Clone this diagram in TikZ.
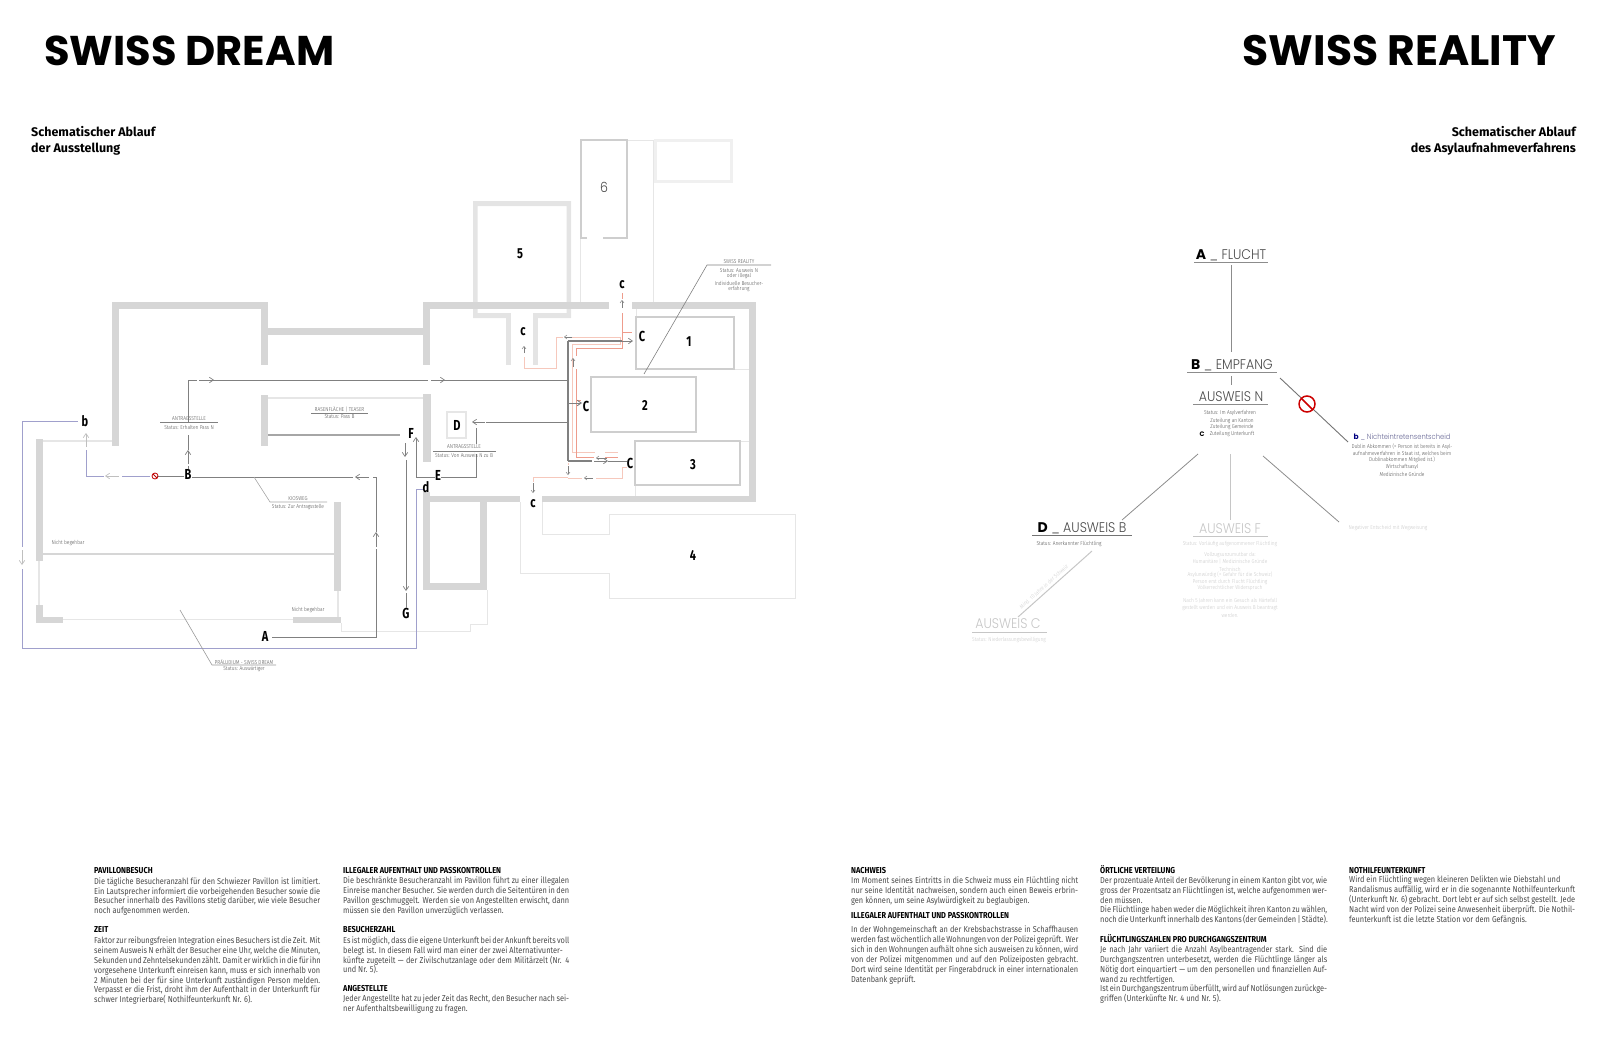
\documentclass[tikz,border=0pt]{standalone}
\usepackage{fontspec}
\usetikzlibrary{arrows.meta}
\setmainfont{Fira Sans}
\newfontfamily\bodyf[FakeStretch=0.86]{Fira Sans}
\newfontfamily\headf[FakeStretch=0.86]{Fira Sans}
\newfontfamily\markf[FakeStretch=0.76]{Fira Sans}
\newfontfamily\smallf[FakeStretch=0.86]{Fira Sans Light}
\newfontfamily\popf{Poppins}
\newfontfamily\popl[FakeStretch=0.9]{Poppins Light}
\definecolor{wallc}{HTML}{D6D6D6}
\definecolor{wall2}{HTML}{E4E4E4}
\definecolor{thinc}{HTML}{E6E6E6}
\definecolor{pathc}{HTML}{808080}
\definecolor{bluec}{HTML}{A0A0CC}
\definecolor{pinkc}{HTML}{F6C8BC}
\definecolor{redc}{HTML}{EE9C8C}
\definecolor{roomc}{HTML}{CECECE}
\definecolor{faintc}{HTML}{C6C6C6}
\definecolor{bodyc}{HTML}{4A4A4A}
\newcount\tn
\newcommand{\bline}[4]{\global\advance\tn by 1 \node[bodyline,anchor=base west] (t\the\tn) at (#1,#2+3) {\makebox[#3pt][s]{#4}};}
\newcommand{\lastl}[3]{\global\advance\tn by 1 \node[bodyline,anchor=base west] (t\the\tn) at (#1,#2+3) {#3};}
\newcommand{\hdl}[3]{\global\advance\tn by 1 \node[headline,anchor=base west] (t\the\tn) at (#1,#2+3) {#3};}
\newcommand{\smt}[3]{\global\advance\tn by 1 \node[smalltext] (t\the\tn) at (#1,#2) {#3};}
\newcommand{\fnt}[3]{\global\advance\tn by 1 \node[fainttext] (t\the\tn) at (#1,#2) {#3};}
\newcommand{\ltr}[1]{{\popf\bfseries\color{black}#1}}
\tikzset{
 x=1pt,y=-1pt,
 wallb/.style={fill=wall2,draw=none},
 thin line/.style={draw=thinc,line width=0.9pt},
 thick light/.style={draw=thinc,line width=1.6pt},
 route/.style={draw=pathc,line width=0.9pt},
 routeb/.style={draw=bluec,line width=0.9pt},
 routep/.style={draw=pinkc,line width=0.9pt},
 router/.style={draw=redc,line width=1pt},
 arw/.style={draw=pathc,line width=0.7pt,-{Straight Barb[length=4pt,width=5.5pt]}},
 arwl/.style={draw=lightgray,line width=0.7pt,-{Straight Barb[length=4pt,width=5.5pt]}},
 arws/.style={draw=gray,line width=0.5pt,-{Straight Barb[length=2.5pt,width=4pt]}},
 roombox/.style={draw=roomc,line width=1.2pt},
 mark letter/.style={font=\markf\bfseries\fontsize{14.5}{14}\selectfont,text=black,inner sep=0pt},
 lead/.style={draw=gray,line width=0.6pt},
 headul/.style={draw=gray!90,line width=0.8pt},
 bodyline/.style={font=\bodyf\fontsize{8.6}{10}\selectfont,text=bodyc,inner sep=0pt},
 headline/.style={font=\headf\bfseries\fontsize{8.6}{10}\selectfont,text=black,inner sep=0pt},
 smalltext/.style={font=\smallf\fontsize{5.6}{6}\selectfont,text=bodyc,inner sep=0pt},
 fainttext/.style={font=\smallf\fontsize{5.6}{6}\selectfont,text=faintc,inner sep=0pt},
 bigl/.style={font=\popl\fontsize{14}{14}\selectfont,text=bodyc,inner sep=0pt},
 bigf/.style={font=\popl\fontsize{14}{14}\selectfont,text=faintc,inner sep=0pt},
 sched/.style={font=\bfseries\fontsize{12.5}{15}\selectfont,inner sep=0pt},
}
\begin{document}
\begin{tikzpicture}
\useasboundingbox (0,0) rectangle (1600,1049);
% titles
\node[anchor=west,inner sep=0pt] (title1) at (44,51) {\resizebox{290pt}{!}{\popf\bfseries SWISS DREAM}};
\node[anchor=east,inner sep=0pt] (title2) at (1556,51) {\resizebox{313pt}{!}{\popf\bfseries SWISS REALITY}};
\node[sched,anchor=base west] (sa1) at (31,136) {Schematischer Ablauf};
\node[sched,anchor=base west] (sa2) at (31,152) {der Ausstellung};
\node[sched,anchor=base east] (sb1) at (1576,136) {Schematischer Ablauf};
\node[sched,anchor=base east] (sb2) at (1576,152) {des Asylaufnahmeverfahrens};

% ---------- light outlines ----------
\draw[draw=thinc,line width=0.8pt] (581,140) -- (653,140) -- (653,302);
\draw[draw=thinc,line width=0.8pt] (580,238) -- (580,302);
\draw[draw=black!6,line width=3pt] (655.5,140.5) rectangle (731.5,181.5);
\draw[draw=thinc,line width=0.8pt] (341,623) -- (341,631) -- (470,631) -- (470,624) -- (487,624) -- (487,590);
\draw[draw=thinc,line width=0.8pt] (520,502) -- (520,573) -- (609,573) -- (609,598) -- (795,598) -- (795,514) -- (609,514) -- (609,534) -- (542,534) -- (542,502);
% room 6
\draw[draw=roomc,line width=1.3pt] (587,238) -- (581,238) -- (581,140) -- (627,140) -- (627,238) -- (603,238);
\node[font=\popl\fontsize{14}{14}\selectfont,text=bodyc,inner sep=0pt] (n6) at (604,187) {6};
% room 5
\fill[wallb,even odd rule] (473,201) rectangle (571,318) (477.5,206) rectangle (566.5,313);
\fill[white] (511,313) rectangle (533,319);
\fill[wallb] (506,318) rectangle (511,365);
\fill[wallb] (533,318) rectangle (538,365);
\node[mark letter] (n5) at (520,254) {5};

% ---------- walls ----------
\fill[wallc] (112,302) rectangle (119,446);
\fill[wallc] (112,302) rectangle (268,309);
\fill[wallc] (261,302) rectangle (268,365);
\fill[wallc] (268,328) rectangle (423,335);
\fill[wallc] (423,302) rectangle (430,365);
\fill[wallc] (423,302) rectangle (609,309);
\fill[wallc] (632,302) rectangle (756,309);
\fill[wallc] (749,302) rectangle (756,502);
\fill[wallc] (542,496) rectangle (756,502);
\fill[wallc] (423,496) rectangle (520,502);
\fill[wallc] (423,492) rectangle (430,590);
\fill[wallc] (480,496) rectangle (487,590);
\fill[wallc] (423,583) rectangle (487,590);
\fill[wallc] (423,394) rectangle (431,462);
\fill[wallc] (261,395) rectangle (268,446);
\fill[wallc] (36,439) rectangle (43,561);
\fill[wallc] (334,502) rectangle (341,591);
\fill[wallc] (293,617) rectangle (341,623);
\fill[wallc] (36,605) rectangle (43,623);
\fill[wallc] (36,617) rectangle (63,623);
% thin wall links
\draw[thick light] (268,398) -- (423,398);
\draw[draw=wallc,line width=1.4pt] (43,554) -- (334,554);
\draw[thick light] (43,441) -- (112,441);
\draw[thick light] (39,561) -- (39,605);
\draw[thick light] (338,591) -- (338,617);
\draw[thick light] (63,619.5) -- (293,619.5);
\draw[draw=gray!70,line width=1.2pt] (268,435) -- (400,435);
\draw[thin line] (636,309) -- (636,317);
\draw[thin line] (734,369) -- (749,369);
\draw[thin line] (740,441) -- (749,441);
\draw[thin line] (635,485) -- (635,496);

% ---------- rooms ----------
\draw[roombox] (636,317) rectangle (734,369);
\draw[roombox] (591,377) rectangle (696,432);
\draw[roombox] (635,441) rectangle (740,485);
\draw[roombox,draw=thinc] (447,412) rectangle (466,438);
\node[mark letter] (n1) at (689,342) {1};
\node[mark letter] (n2) at (645,405) {2};
\node[mark letter] (n3) at (693,465) {3};
\node[mark letter] (n4) at (693,555) {4};

% ---------- letters ----------
\node[mark letter] (A) at (265,636) {A};
\node[mark letter] (B) at (188,474) {B};
\node[mark letter] (Cone) at (642,336) {C};
\node[mark letter] (Ctwo) at (586,406) {C};
\node[mark letter] (Cthree) at (630,463) {C};
\node[mark letter] (D) at (457,425) {D};
\node[mark letter] (E) at (438,475) {E};
\node[mark letter] (F) at (411,433) {F};
\node[mark letter] (G) at (406,613) {G};
\node[mark letter] (b) at (85,421) {b};
\node[mark letter] (cu) at (622,285) {c};
\node[mark letter] (cv) at (523,332) {c};
\node[mark letter] (cw) at (533,504) {c};
\node[mark letter] (d) at (426,487) {d};

% ---------- pink routes ----------
\draw[routep] (524,357) -- (524,368) -- (556,368) -- (556,337) -- (563,337);
\draw[routep] (572,337) -- (620,337);
\draw[routep] (620,337) -- (620,344) -- (572,344) -- (572,400);
\draw[routep] (572,400) -- (572,452);
\draw[routep] (572,452) -- (595,452);
\draw[routep] (605,452) -- (618,452);
\draw[router] (576,348) -- (576,356);
\draw[router] (576,369) -- (576,457) -- (594,457);
\draw[router] (605,457) -- (618,457);
\draw[router] (576,348) -- (622,348) -- (622,313);
\draw[router] (622,293) -- (622,299);
\draw[router] (622,332) -- (632,332);
\draw[router] (576,400) -- (581,400);
\draw[routep] (568,477) -- (533,477) -- (533,482);
\draw[routep] (568,478) -- (582,478);
\draw[routep] (596,478) -- (622,478) -- (622,467) -- (627,467);
\draw[routep] (568,463) -- (568,465);

% ---------- gray routes ----------
\draw[route] (A.east) ++(4,1) -- (376,637) -- (376,549);
\draw[arw] (376,547) -- (376,532);
\draw[route] (376,532) -- (376,477) -- (373,477);
\draw[arw] (369,477) -- (355,477);
\draw[route] (353,477) -- (B.east |- 353,477);
\draw[route] (B.north) -- (188,466);
\draw[arw] (188,464) -- (188,450);
\draw[route] (188,450) -- (188,435);
\draw[route] (188,422) -- (188,380) -- (197,380);
\draw[arw] (199,380) -- (214,380);
\draw[route] (213,380) -- (428,380);
\draw[arw] (431,380) -- (445,380);
\draw[route] (444,380) -- (568,380);
\draw[draw=gray,line width=1.3pt] (568,341) -- (568,461);
\draw[draw=gray,line width=1.1pt] (568,341) -- (622,341);
\draw[arw] (622,341) -- (633,341);
\draw[arw,line width=0.9pt] (568,403) -- (582,403);
\draw[draw=gray,line width=1.1pt] (568,461) -- (592,461);
\draw[arw] (594,461) -- (608,461);
\draw[arws] (607,458) -- (596,458);
\draw[route] (608,461) -- (Cthree.west |- 608,461);
\draw[route] (568,422) -- (486,422);
\draw[arw] (485,422) -- (472,422);
\draw[route] (476,428) -- (476,444);
\draw[route] (476,454) -- (476,477) -- (E.east |- 476,477);
\draw[route] (E.west |- 416,477) -- (416,477) -- (416,449);
\draw[arw] (416,449) -- (416,437);
\draw[arw] (405,443) -- (405,457);
\draw[route] (406,460) -- (406,577);
\draw[arw] (406,577) -- (406,591);
\draw[route] (406,593) -- (G.north);

% ---------- left branch to b ----------
\draw[route,line width=0.9pt] (B.west |- 157,476) -- (157,476);
\draw[routeb] (150,476) -- (122,476);
\draw[arwl] (119,476) -- (105,476);
\draw[routeb] (104,476) -- (86,476) -- (86,450);
\draw[arwl] (86,447) -- (86,433);
\draw[draw=red!75!black,line width=0.8pt] (155,476) circle (3);
\draw[draw=red!75!black,line width=0.8pt] (153,474) -- (157,478);
% blue route
\draw[routeb] (b.west) ++(-4,0) -- (22,421) -- (22,547);
\draw[arwl] (22,550) -- (22,565);
\draw[routeb] (22,569) -- (22,648) -- (416,648) -- (416,489) -- (d.west |- 416,489);

% small arrows
\draw[arws] (524,353) -- (524,346);
\draw[arws] (573,367) -- (573,358);
\draw[arws] (572,337) -- (564,337);
\draw[arws] (622,308) -- (622,300);
\draw[arws] (568,466) -- (568,475);
\draw[arws] (533,483) -- (533,493);
\draw[arws] (593,478) -- (584,478);

% ---------- left labels ----------
\coordinate (l1a) at (160,422); \coordinate (l1b) at (218,422);
\draw[lead] (l1a) -- (l1b);
\smt{189}{419}{ANTRAGSSTELLE}
\smt{189}{427}{Status: Erhalten Pass N}
\coordinate (l2a) at (311,413); \coordinate (l2b) at (368,413);
\draw[lead] (l2a) -- (l2b);
\smt{339.5}{409}{RASENFLÄCHE | TEASER}
\smt{339.5}{417}{Status: Pass B}
\coordinate (l3a) at (433,451); \coordinate (l3b) at (496,451);
\draw[lead] (l3a) -- (l3b);
\smt{464}{447}{ANTRAGSSTELLE}
\smt{464}{455}{Status: Von Ausweis N zu B}
\coordinate (l4a) at (254,477); \coordinate (l4b) at (270,502); \coordinate (l4c) at (327,502);
\draw[lead,draw=gray!70] (l4a) -- (l4b) -- (l4c);
\smt{298}{499}{KIOSWEG}
\smt{298}{507}{Status: Zur Antragsstelle}
\coordinate (l5a) at (180,610); \coordinate (l5b) at (212,665); \coordinate (l5c) at (276,665);
\draw[lead,draw=gray!80] (l5a) -- (l5b) -- (l5c);
\smt{244}{662}{PRÄLUDIUM - SWISS DREAM}
\smt{244}{669}{Status: Auswärtiger}
\smt{68}{543}{Nicht begehbar}
\smt{308}{610}{Nicht begehbar}
\coordinate (l6a) at (644,374); \coordinate (l6b) at (707,265); \coordinate (l6c) at (771,265);
\draw[lead] (l6a) -- (l6b) -- (l6c);
\smt{739}{262}{SWISS REALITY}
\smt{739}{270}{Status: Ausweis N}
\smt{739}{276}{oder illegal}
\smt{739}{283}{Individuelle Besucher-}
\smt{739}{289}{erfahrung}

% ---------- right diagram ----------
\node[bigl] (fa) at (1231,255) {\ltr{A} \_ FLUCHT};
\draw[headul] (1194,262) -- (1268,262);
\node[bigl] (fb) at (1232,365) {\ltr{B} \_ EMPFANG};
\draw[headul] (1187,372) -- (1277,372);
\node[bigl] (fn) at (1231,397) {AUSWEIS N};
\draw[headul] (1193,404) -- (1268,404);
\coordinate (a1) at (1231,265); \coordinate (b0) at (1231,352);
\draw[draw=gray!90,line width=1pt] (a1) -- (b0);
\coordinate (b1) at (1231,376); \coordinate (n0) at (1231,385);
\draw[draw=gray!90,line width=1pt] (b1) -- (n0);
\smt{1230}{413}{Status: Im Asylverfahren}
\smt{1232}{421}{Zuteilung an Kanton}
\smt{1232}{427}{Zuteilung Gemeinde}
\smt{1232}{434}{Zuteilung Unterkunft}
\node[font=\popf\bfseries\fontsize{6.5}{7}\selectfont,inner sep=0pt] (fc) at (1202,434) {C};
% to b
\coordinate (r1) at (1280,378); \coordinate (r2) at (1348,442);
\draw[draw=gray!90!black,line width=0.9pt] (r1) -- (r2);
\coordinate (ne) at (1307,404);
\draw[draw=red!80!black,line width=1.5pt,fill=white] (ne) circle (8);
\draw[draw=red!80!black,line width=1.5pt] (1301.5,398.5) -- (1312.5,409.5);
\node[inner sep=0pt,font=\popl\fontsize{7.5}{8}\selectfont,text=blue!30!black!60!white] (fbn) at (1402,437) {{\popf\bfseries\color{blue!50!black}b} \_ Nichteintretensentscheid};
\smt{1402}{447}{Dublin Abkommen (= Person ist bereits in Asyl-}
\smt{1402}{454}{aufnahmeverfahren in Staat ist, welches beim}
\smt{1402}{460}{Dublinabkommen Mitglied ist.)}
\smt{1402}{467}{Wirtschaftsasyl}
\smt{1402}{474}{Medizinische Gründe}
% to D, F, neg
\coordinate (d1) at (1198,454); \coordinate (d2) at (1122,520);
\draw[draw=gray!90,line width=0.8pt] (d1) -- (d2);
\coordinate (f1) at (1230,454); \coordinate (f2) at (1230,520);
\draw[draw=faintc,line width=1pt] (f1) -- (f2);
\coordinate (n1a) at (1263,456); \coordinate (n2a) at (1339,522);
\draw[draw=gray!90,line width=0.8pt] (n1a) -- (n2a);
\node[bigl] (fd) at (1082,528) {\ltr{D} \_ AUSWEIS B};
\draw[draw=gray!90!black,line width=0.9pt] (1032,535) -- (1132,535);
\smt{1069}{544}{Status: Anerkannter Flüchtling}
\coordinate (c1) at (1092,551); \coordinate (c2) at (1018,617);
\draw[draw=faintc,line width=1pt] (c1) -- (c2);
\node[fainttext,rotate=42] (mind) at (1044,587) {Mind. 10 Jahre in der Schweiz};
\node[bigf] (fcc) at (1008,624) {AUSWEIS C};
\draw[draw=faintc,line width=0.9pt] (972,632) -- (1047,632);
\fnt{1009}{640}{Status: Niederlassungsbewilligung}
\node[bigf] (ff) at (1230,529) {AUSWEIS F};
\draw[draw=faintc,line width=0.9pt] (1193,536) -- (1268,536);
\fnt{1230}{544}{Status: Vorläufig aufgenommener Flüchtling}
\fnt{1230}{555}{Vollzugsunzumutbar da:}
\fnt{1230}{562}{Humanitäre | Medizinische Gründe}
\fnt{1230}{569}{Technisch}
\fnt{1230}{575}{Asylunwürdig (= Gefahr für die Schweiz)}
\fnt{1230}{582}{Person erst durch Flucht Flüchtling}
\fnt{1230}{588}{Völkerrechtlicher Widerspruch}
\fnt{1230}{601}{Nach 5 Jahren kann ein Gesuch als Härtefall}
\fnt{1230}{608}{gestellt werden und ein Ausweis B beantragt}
\fnt{1230}{615}{werden.}
\fnt{1388}{528}{Negativer Entscheid mit Wegweisung}

% ---------- body text ----------
\hdl{94}{870}{PAVILLONBESUCH}
\bline{94}{881}{226}{Die tägliche Besucheranzahl für den Schwiezer Pavillon ist limitiert.}
\bline{94}{891}{226}{Ein Lautsprecher informiert die vorbeigehenden Besucher sowie die}
\bline{94}{900}{226}{Besucher innerhalb des Pavillons stetig darüber, wie viele Besucher}
\lastl{94}{910}{noch aufgenommen werden.}
\hdl{94}{929}{ZEIT}
\bline{94}{940}{226}{Faktor zur reibungsfreien Integration eines Besuchers ist die Zeit. Mit}
\bline{94}{950}{226}{seinem Ausweis N erhält der Besucher eine Uhr, welche die Minuten,}
\bline{94}{960}{226}{Sekunden und Zehntelsekunden zählt. Damit er wirklich in die für ihn}
\bline{94}{970}{226}{vorgesehene Unterkunft einreisen kann, muss er sich innerhalb von}
\bline{94}{980}{226}{2 Minuten bei der für sine Unterkunft zuständigen Person melden.}
\bline{94}{989}{226}{Verpasst er die Frist, droht ihm der Aufenthalt in der Unterkunft für}
\lastl{94}{999}{schwer Integrierbare( Nothilfeunterkunft Nr. 6).}

\hdl{343}{870}{ILLEGALER AUFENTHALT UND PASSKONTROLLEN}
\bline{343}{880}{226}{Die beschränkte Besucheranzahl im Pavillon führt zu einer illegalen}
\bline{343}{890}{226}{Einreise mancher Besucher. Sie werden durch die Seitentüren in den}
\bline{343}{900}{226}{Pavillon geschmuggelt. Werden sie von Angestellten erwischt, dann}
\lastl{343}{910}{müssen sie den Pavillon unverzüglich verlassen.}
\hdl{343}{929}{BESUCHERZAHL}
\bline{343}{940}{226}{Es ist möglich, dass die eigene Unterkunft bei der Ankunft bereits voll}
\lastl{343}{950}{belegt ist. In diesem Fall wird man einer der zwei Alternativunter-}
\bline{343}{960}{226}{künfte zugeteilt — der Zivilschutzanlage oder dem Militärzelt (Nr. 4}
\lastl{343}{969}{und Nr. 5).}
\hdl{343}{988}{ANGESTELLTE}
\bline{343}{998}{226}{Jeder Angestellte hat zu jeder Zeit das Recht, den Besucher nach sei-}
\lastl{343}{1008}{ner Aufenthaltsbewilligung zu fragen.}

\hdl{851}{870}{NACHWEIS}
\bline{851}{880}{227}{Im Moment seines Eintritts in die Schweiz muss ein Flüchtling nicht}
\bline{851}{890}{227}{nur seine Identität nachweisen, sondern auch einen Beweis erbrin-}
\lastl{851}{900}{gen können, um seine Asylwürdigkeit zu beglaubigen.}
\hdl{851}{915}{ILLEGALER AUFENTHALT UND PASSKONTROLLEN}
\bline{851}{929}{227}{In der Wohngemeinschaft an der Krebsbachstrasse in Schaffhausen}
\bline{851}{939}{227}{werden fast wöchentlich alle Wohnungen von der Polizei geprüft. Wer}
\bline{851}{949}{227}{sich in den Wohnungen aufhält ohne sich ausweisen zu können, wird}
\bline{851}{959}{227}{von der Polizei mitgenommen und auf den Polizeiposten gebracht.}
\bline{851}{969}{227}{Dort wird seine Identität per Fingerabdruck in einer internationalen}
\lastl{851}{979}{Datenbank geprüft.}

\hdl{1100}{870}{ÖRTLICHE VERTEILUNG}
\bline{1100}{880}{227}{Der prozentuale Anteil der Bevölkerung in einem Kanton gibt vor, wie}
\bline{1100}{890}{227}{gross der Prozentsatz an Flüchtlingen ist, welche aufgenommen wer-}
\lastl{1100}{900}{den müssen.}
\bline{1100}{909}{227}{Die Flüchtlinge haben weder die Möglichkeit ihren Kanton zu wählen,}
\bline{1100}{919}{227}{noch die Unterkunft innerhalb des Kantons (der Gemeinden | Städte).}
\hdl{1100}{939}{FLÜCHTLINGSZAHLEN PRO DURCHGANGSZENTRUM}
\bline{1100}{949}{227}{Je nach Jahr variiert die Anzahl Asylbeantragender stark. Sind die}
\bline{1100}{959}{227}{Durchgangszentren unterbesetzt, werden die Flüchtlinge länger als}
\bline{1100}{969}{227}{Nötig dort einquartiert — um den personellen und finanziellen Auf-}
\lastl{1100}{979}{wand zu rechtfertigen.}
\bline{1100}{988}{227}{Ist ein Durchgangszentrum überfüllt, wird auf Notlösungen zurückge-}
\lastl{1100}{998}{griffen (Unterkünfte Nr. 4 und Nr. 5).}

\hdl{1349}{870}{NOTHILFEUNTERKUNFT}
\lastl{1349}{879}{Wird ein Flüchtling wegen kleineren Delikten wie Diebstahl und}
\bline{1349}{889}{226}{Randalismus auffällig, wird er in die sogenannte Nothilfeunterkunft}
\bline{1349}{899}{226}{(Unterkunft Nr. 6) gebracht. Dort lebt er auf sich selbst gestellt. Jede}
\bline{1349}{909}{226}{Nacht wird von der Polizei seine Anwesenheit überprüft. Die Nothil-}
\lastl{1349}{919}{feunterkunft ist die letzte Station vor dem Gefängnis.}
\end{tikzpicture}
\end{document}
